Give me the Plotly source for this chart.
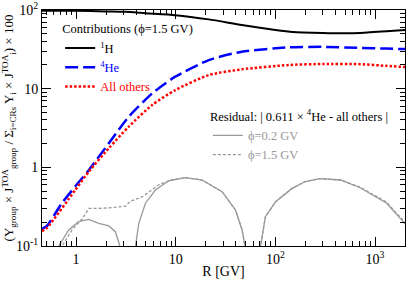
import numpy as np
import plotly.graph_objects as go

# ---- data ----
r_h = [0.455, 1, 2, 3.1, 5, 9.9, 21.5, 46, 100, 150, 300, 500, 710, 1300, 2000]
v_h = [98, 97.5, 96, 95, 91, 86, 76, 64.5, 55.7, 52.5, 51, 50.5, 51, 53.5, 55.7]

r_he = [0.455, 0.51, 0.72, 0.98, 1.34, 2.13, 3.38, 5.8, 9.9, 21.5, 46, 136, 300, 710, 1300, 2000]
v_he = [0.165, 0.18, 0.35, 0.57, 0.92, 2.02, 4.4, 8.7, 14.2, 23.1, 29.5, 33.5, 34, 33, 32.3, 31.9]

r_oth = [0.455, 0.51, 0.98, 1.34, 2.13, 3.38, 5.8, 9.9, 21.5, 46, 136, 300, 710, 1300, 2000]
v_oth = [0.155, 0.17, 0.515, 0.88, 1.75, 3.3, 6.2, 9.6, 14.9, 17.6, 20, 20.6, 20.5, 19.5, 18.8]

r_res02 = [0.62, 0.67, 0.845, 1.06, 1.34, 1.69, 2.13, 2.48, 2.72, 2.8, None,
           3.85, 3.94, 4.26, 4.97, 6.25, 8.5, 12.5, 18.4, 29.2, 39.8, 46.4, 49.5, 51, None,
           68, 71, 79.5, 100.5, 147, 200, 280, 450, 710, 1310, 1920, 2000]
v_res02 = [0.08, 0.1, 0.16, 0.204, 0.218, 0.194, 0.18, 0.152, 0.105, 0.08, None,
           0.08, 0.1, 0.194, 0.35, 0.515, 0.675, 0.738, 0.69, 0.49, 0.287, 0.16, 0.1, 0.08, None,
           0.08, 0.1, 0.236, 0.366, 0.54, 0.66, 0.72, 0.69, 0.55, 0.35, 0.204, 0.19]

r_res15 = [0.65, 0.72, 0.91, 1.15, 1.34, 1.6, 2.13, 3.13, 3.5, 4.6, 6.75, 9.2, 12.5, 18.4,
           29.2, 39.8, 46.4, 49.5, 51, None,
           68, 71, 79.5, 100.5, 147, 200, 280, 450, 710, 1310, 1920, 2000]
v_res15 = [0.08, 0.1, 0.16, 0.22, 0.30, 0.30, 0.305, 0.32, 0.37, 0.42, 0.6, 0.7, 0.74, 0.69,
           0.49, 0.287, 0.16, 0.1, 0.08, None,
           0.08, 0.1, 0.236, 0.366, 0.54, 0.66, 0.72, 0.69, 0.56, 0.36, 0.21, 0.195]

x_tickvals = [1, 10, 100, 1000]
x_ticktext = ["1", "10", "10<sup>2</sup>", "10<sup>3</sup>"]
y_tickvals = [0.1, 1, 10, 100]
y_ticktext = ["10<sup>-1</sup>", "1", "10", "10<sup>2</sup>"]

FONT = "Liberation Serif"

fig = go.Figure()
fig.add_trace(go.Scatter(x=r_h, y=v_h, mode="lines", name="<sup>1</sup>H",
                         line=dict(color="black", width=2, shape="spline", smoothing=0.6),
                         legend="legend"))
fig.add_trace(go.Scatter(x=r_he, y=v_he, mode="lines",
                         name="<span style='color:blue'><sup>4</sup>He</span>",
                         line=dict(color="blue", width=2.5, dash="13px,5px", shape="spline", smoothing=0.6),
                         legend="legend"))
fig.add_trace(go.Scatter(x=r_oth, y=v_oth, mode="lines",
                         name="<span style='color:red'>All others</span>",
                         line=dict(color="red", width=2.5, dash="2.5px,2px", shape="spline", smoothing=0.6),
                         legend="legend"))
fig.add_trace(go.Scatter(x=r_res02, y=v_res02, mode="lines", name="ϕ=0.2 GV",
                         line=dict(color="#999999", width=1.3), legend="legend2", connectgaps=False))
fig.add_trace(go.Scatter(x=r_res15, y=v_res15, mode="lines", name="ϕ=1.5 GV",
                         line=dict(color="#999999", width=1.3, dash="3px,2px"), legend="legend2",
                         connectgaps=False))

minor_x = [m * 10 ** e for e in range(-1, 4) for m in range(2, 10)]
minor_y = [m * 10 ** e for e in range(-1, 2) for m in range(2, 10)]

axis_common = dict(type="log", showline=True, linecolor="black", linewidth=1,
                   mirror="allticks", ticks="inside", ticklen=9, tickcolor="black",
                   showgrid=False, zeroline=False, automargin=False,
                   tickfont=dict(family=FONT, size=14, color="black"))

fig.update_xaxes(**axis_common, range=[np.log10(0.455), np.log10(2000)],
                 tickmode="array", tickvals=x_tickvals, ticktext=x_ticktext,
                 minor=dict(tickmode="array", tickvals=minor_x, ticks="inside", ticklen=5,
                            tickcolor="black", showgrid=False),
                 title=dict(text="R [GV]", font=dict(family=FONT, size=14, color="black"), standoff=0))
fig.update_yaxes(**axis_common, range=[-1, 2],
                 tickmode="array", tickvals=y_tickvals, ticktext=y_ticktext,
                 minor=dict(tickmode="array", tickvals=minor_y, ticks="inside", ticklen=5,
                            tickcolor="black", showgrid=False),
                 title=dict(text="(Y<sub>group</sub> × J<sup>TOA</sup><sub>group</sub> / "
                                 "Σ<sub>i=CRs</sub> Y<sub>i</sub> × J<sup>TOA</sup><sub>i</sub>) × 100",
                            font=dict(family=FONT, size=13, color="black"), standoff=0))

fig.update_layout(
    width=415, height=283,
    margin=dict(l=42, r=10, t=10, b=37),
    paper_bgcolor="white", plot_bgcolor="white",
    font=dict(family=FONT, size=12, color="black"),
    legend=dict(x=0.05, y=0.97, xanchor="left", yanchor="top",
                bgcolor="rgba(0,0,0,0)", borderwidth=0,
                title=dict(text="Contributions (ϕ=1.5 GV)", font=dict(family=FONT, size=12.5, color="black")),
                font=dict(family=FONT, size=12.5, color="black"),
                tracegroupgap=0, itemwidth=30),
    legend2=dict(x=0.457, y=0.6, xanchor="left", yanchor="top",
                 bgcolor="rgba(0,0,0,0)", borderwidth=0,
                 title=dict(text="Residual: | 0.611 × <sup>4</sup>He - all others |",
                            font=dict(family=FONT, size=12.5, color="black")),
                 font=dict(family=FONT, size=12.5, color="#999999"),
                 tracegroupgap=0, itemwidth=30),
    showlegend=True,
)

fig.write_html("out.html", config={"displayModeBar": False},
               post_script="document.body.style.margin='0';")
